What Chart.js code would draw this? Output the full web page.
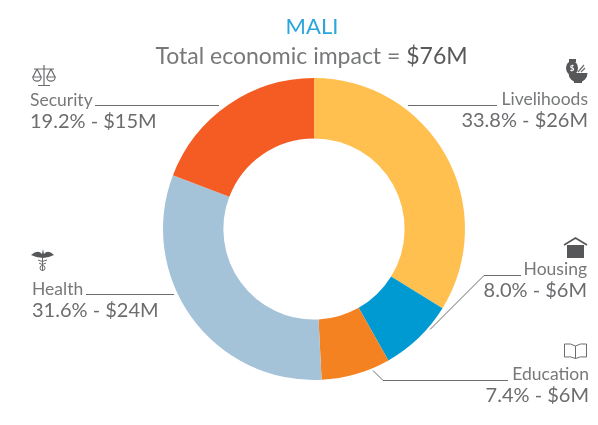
<!DOCTYPE html>
<html>
<head>
<meta charset="utf-8">
<style>
  html, body { margin: 0; padding: 0; background: #fff; }
  #wrap { width: 598px; height: 425px; position: relative; }
</style>
<script src="https://cdn.jsdelivr.net/npm/chart.js@4/dist/chart.umd.min.js"></script>
</head>
<body>
<div id="wrap"><canvas id="chart" width="598" height="425"></canvas></div>
<script>
const categories = ['Livelihoods', 'Housing', 'Education', 'Health', 'Security'];
const shares = [33.8, 8.0, 7.4, 31.6, 19.2];
const shareLabels = ['33.8%', '8.0%', '7.4%', '31.6%', '19.2%'];
const amountLabels = ['$26M', '$6M', '$6M', '$24M', '$15M'];
const colors = ['#ffc04f', '#009ad2', '#f58220', '#a5c3d8', '#f45c23'];
const titleText = 'MALI';
const subtitleText = 'Total economic impact = ';
const totalText = '$76M';

const FONT = 'Lato, "Open Sans", sans-serif';
const GREY = '#6b6c6e';

// label anchor and leader line for each slice, same order as categories
const callouts = [
  {align: 'right', x: 588, y: 105, line: [[408, 105], [497, 105]], icon: 'bag'},
  {align: 'right', x: 587, y: 275, line: [[430, 329], [484, 275], [521, 275]], icon: 'house'},
  {align: 'right', x: 589, y: 380, line: [[373, 370], [383, 380], [508, 380]], icon: 'book'},
  {align: 'left', x: 32, y: 295, line: [[86, 294], [174, 294]], icon: 'health'},
  {align: 'left', x: 30, y: 106, line: [[95, 105], [219, 105]], icon: 'scale'}
];

const icons = {
  scale(ctx) {
    ctx.strokeStyle = GREY;
    ctx.lineWidth = 1.2;
    ctx.beginPath();
    ctx.moveTo(44, 65); ctx.lineTo(44, 85);
    ctx.moveTo(38, 85.5); ctx.lineTo(50, 85.5);
    ctx.moveTo(34, 69); ctx.lineTo(54, 69);
    ctx.moveTo(37, 69); ctx.lineTo(33, 77); ctx.moveTo(37, 69); ctx.lineTo(41, 77);
    ctx.moveTo(51, 69); ctx.lineTo(47, 77); ctx.moveTo(51, 69); ctx.lineTo(55, 77);
    ctx.stroke();
    ctx.beginPath(); ctx.arc(37, 77, 4.2, 0, Math.PI); ctx.closePath(); ctx.stroke();
    ctx.beginPath(); ctx.arc(51, 77, 4.2, 0, Math.PI); ctx.closePath(); ctx.stroke();
  },
  bag(ctx) {
    ctx.fillStyle = '#565759';
    ctx.beginPath(); ctx.ellipse(572, 68, 6, 7, 0, 0, Math.PI * 2); ctx.fill();
    ctx.fillRect(569, 59, 7, 3);
    ctx.beginPath(); ctx.arc(578, 73, 9.5, 0, Math.PI); ctx.closePath(); ctx.fill();
    ctx.fillRect(574, 81, 8, 2);
    ctx.fillStyle = '#fff';
    ctx.font = 'bold 8px ' + FONT;
    ctx.textAlign = 'center';
    ctx.fillText('$', 572, 71);
    ctx.strokeStyle = GREY;
    ctx.lineWidth = 1.2;
    ctx.beginPath();
    ctx.moveTo(578, 72); ctx.lineTo(584, 65);
    ctx.moveTo(581, 72); ctx.lineTo(585, 68);
    ctx.stroke();
  },
  house(ctx) {
    ctx.fillStyle = '#565759';
    ctx.fillRect(567, 245, 17, 13);
    ctx.strokeStyle = '#565759';
    ctx.lineWidth = 1.6;
    ctx.beginPath();
    ctx.moveTo(564, 245); ctx.lineTo(575.5, 238); ctx.lineTo(587, 245);
    ctx.stroke();
  },
  book(ctx) {
    ctx.strokeStyle = GREY;
    ctx.lineWidth = 1;
    ctx.beginPath();
    ctx.moveTo(575.5, 346);
    ctx.quadraticCurveTo(571, 343, 564.5, 344);
    ctx.lineTo(564.5, 357);
    ctx.quadraticCurveTo(571, 356, 575.5, 358.5);
    ctx.quadraticCurveTo(580, 356, 586.5, 357);
    ctx.lineTo(586.5, 344);
    ctx.quadraticCurveTo(580, 343, 575.5, 346);
    ctx.lineTo(575.5, 358.5);
    ctx.stroke();
  },
  health(ctx) {
    ctx.fillStyle = '#565759';
    ctx.beginPath();
    ctx.moveTo(31, 255);
    ctx.quadraticCurveTo(38, 249, 42, 254);
    ctx.lineTo(43, 249); ctx.lineTo(44, 254);
    ctx.quadraticCurveTo(48, 249, 54, 255);
    ctx.quadraticCurveTo(48, 258, 43, 258);
    ctx.quadraticCurveTo(37, 258, 31, 255);
    ctx.fill();
    ctx.strokeStyle = GREY;
    ctx.lineWidth = 1;
    ctx.beginPath();
    ctx.moveTo(42.5, 258); ctx.lineTo(42.5, 271);
    ctx.moveTo(38, 260); ctx.quadraticCurveTo(42, 263, 47, 260);
    ctx.moveTo(39, 263); ctx.quadraticCurveTo(42, 266, 46, 263);
    ctx.stroke();
    ctx.beginPath(); ctx.arc(42.5, 268, 2.5, 0, Math.PI * 2); ctx.stroke();
  }
};

const calloutPlugin = {
  id: 'callouts',
  afterDraw(chart) {
    const ctx = chart.ctx;
    ctx.save();
    ctx.textBaseline = 'alphabetic';

    // heading
    ctx.textAlign = 'center';
    ctx.fillStyle = '#2ba6dc';
    ctx.font = '22px ' + FONT;
    ctx.fillText(titleText, 312, 34);

    ctx.font = '23px ' + FONT;
    const w1 = ctx.measureText(subtitleText).width;
    const w2 = ctx.measureText(totalText).width;
    const left = 311.5 - (w1 + w2) / 2;
    ctx.textAlign = 'left';
    ctx.fillStyle = '#77787a';
    ctx.fillText(subtitleText, left, 64);
    ctx.fillStyle = '#58595b';
    ctx.fillText(totalText, left + w1, 64);

    categories.forEach((name, i) => {
      const c = callouts[i];
      ctx.strokeStyle = GREY;
      ctx.lineWidth = 1;
      ctx.beginPath();
      c.line.forEach((p, j) => j ? ctx.lineTo(p[0], p[1] + 0.5) : ctx.moveTo(p[0], p[1] + 0.5));
      ctx.stroke();

      ctx.textAlign = c.align;
      ctx.fillStyle = '#77787a';
      ctx.font = '17.5px ' + FONT;
      ctx.fillText(name, c.x, c.y);
      ctx.fillStyle = GREY;
      ctx.font = '20px ' + FONT;
      ctx.fillText(shareLabels[i] + ' - ' + amountLabels[i], c.x, c.y + 22);

      ctx.save();
      icons[c.icon](ctx);
      ctx.restore();
    });
    ctx.restore();
  }
};

new Chart(document.getElementById('chart').getContext('2d'), {
  type: 'doughnut',
  data: {
    labels: categories,
    datasets: [{
      data: shares,
      backgroundColor: colors,
      borderWidth: 0
    }]
  },
  options: {
    responsive: false,
    animation: false,
    cutout: '60%',
    layout: {padding: {left: 163, right: 133, top: 78, bottom: 45}},
    plugins: {legend: {display: false}, tooltip: {enabled: false}}
  },
  plugins: [calloutPlugin]
});
</script>
</body>
</html>
